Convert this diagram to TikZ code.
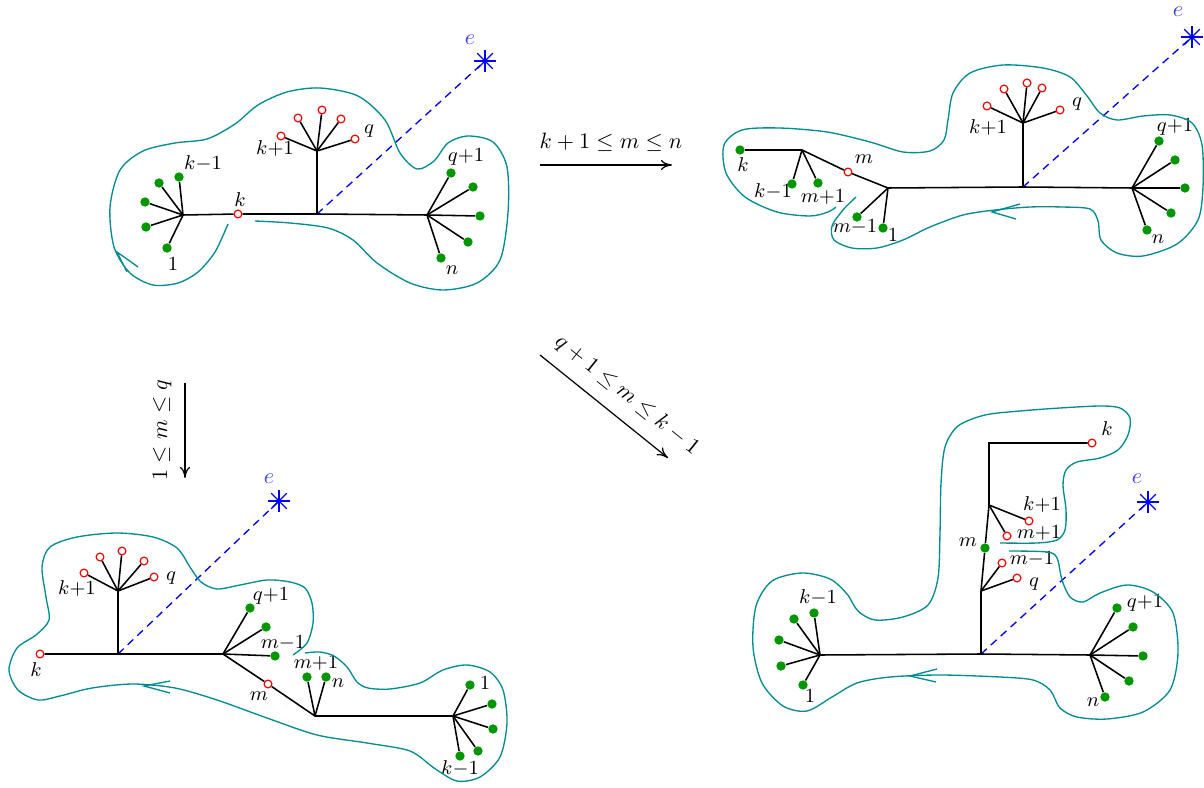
\documentclass[tikz,border=0pt]{standalone}
\usepackage{amssymb}
\usetikzlibrary{arrows.meta}
\definecolor{loopc}{RGB}{0,140,145}
\definecolor{dotg}{RGB}{0,150,0}
\begin{document}
\begin{tikzpicture}[x=0.45pt,y=-0.45pt,
  tree/.style={line width=0.7pt,black},
  gdot/.style={circle,fill=dotg,inner sep=0pt,minimum size=4.2pt},
  rdot/.style={circle,draw=red,fill=white,inner sep=0pt,minimum size=3.5pt,line width=0.55pt},
  lab/.style={font=\fontsize{8.6}{10}\selectfont,inner sep=0pt},
  elab/.style={text=blue!75,inner sep=0pt},
  loopline/.style={draw=loopc,line width=0.6pt},
  edash/.style={draw=blue,dash pattern=on 3.5pt off 2.5pt,line width=0.6pt},
  star/.style={draw=blue,line width=0.6pt},
  bigarrow/.style={line width=0.55pt,-{To[length=5pt,width=4.5pt]}}]
\useasboundingbox (0,0) rectangle (1204,788);

% ================= Panel 1 =================
\coordinate (aL) at (183,215);
\coordinate (aC) at (317,214);
\coordinate (aU) at (317,151);
\coordinate (aR) at (427,215);
\coordinate (ae) at (485,61);
\node[rdot] (ak) at (238,214) {};
\node[rdot] (au1) at (281,136) {};
\node[rdot] (au2) at (298,118) {};
\node[rdot] (au3) at (322,110) {};
\node[rdot] (au4) at (341,119) {};
\node[rdot] (au5) at (355,139) {};
\node[gdot] (al1) at (167,248) {};
\node[gdot] (al2) at (146,227) {};
\node[gdot] (al3) at (145,202) {};
\node[gdot] (al4) at (159,183) {};
\node[gdot] (al5) at (179,177) {};
\node[gdot] (ar1) at (451,173) {};
\node[gdot] (ar2) at (473,187) {};
\node[gdot] (ar3) at (480,216) {};
\node[gdot] (ar4) at (468,242) {};
\node[gdot] (ar5) at (441,258) {};
\draw[edash] (aC) -- (ae);
\draw[tree] (aL) -- (ak) -- (aC) -- (aR) -- (ar3);
\draw[tree] (aC) -- (aU);
\foreach \i in {1,...,5} {\draw[tree] (aU) -- (au\i); \draw[tree] (aL) -- (al\i);}
\foreach \i in {1,2,4,5} {\draw[tree] (aR) -- (ar\i);}
\foreach \a in {0,45,90,135} \draw[star] (ae) ++(\a:11) -- ++(\a+180:22);
\node[elab] (lae) at (470,40) {$e$};
\node[lab] (lak) at (240,200) {$k$};
\node[lab] (lak1) at (275,148) {$k{+}1$};
\node[lab] (laq) at (369,131) {$q$};
\node[lab] (lakm) at (203,163) {$k{-}1$};
\node[lab] (la1) at (173,264) {$1$};
\node[lab] (laq1) at (466,157) {$q{+}1$};
\node[lab] (lan) at (452,270) {$n$};
\draw[loopline] plot[smooth] coordinates {(228,224) (215,252) (198,272) (178,283) (153,285) (130,273) (114,247) (110,207) (120,170) (143,151) (175,143) (207,139) (235,124) (258,105) (287,92) (320,88) (358,96) (385,120) (400,153) (417,169) (434,161) (448,143) (468,136) (493,142) (507,167) (508,213) (500,260) (477,283) (443,290) (410,283) (377,263) (353,240) (328,228) (290,223) (255,221)};
\coordinate (atip) at (117,252);
\coordinate (aw1) at (138,267);
\coordinate (aw2) at (127,272);
\draw[loopline] (aw1) -- (atip) -- (aw2);

% ================= Panel 2 =================
\coordinate (bL) at (888,188);
\coordinate (bC) at (1023,187);
\coordinate (bU) at (1023,123);
\coordinate (bR) at (1132,188);
\coordinate (bK) at (802,150);
\coordinate (be) at (1192,37);
\node[rdot] (bm) at (848,172) {};
\node[gdot] (bk) at (740,150) {};
\node[gdot] (bl1) at (792,184) {};
\node[gdot] (bl2) at (818,183) {};
\node[gdot] (bh1) at (857,217) {};
\node[gdot] (bh2) at (883,228) {};
\node[rdot] (bu1) at (987,106) {};
\node[rdot] (bu2) at (1004,89) {};
\node[rdot] (bu3) at (1027,83) {};
\node[rdot] (bu4) at (1042,88) {};
\node[rdot] (bu5) at (1060,110) {};
\node[gdot] (br1) at (1159,141) {};
\node[gdot] (br2) at (1175,160) {};
\node[gdot] (br3) at (1185,188) {};
\node[gdot] (br4) at (1171,213) {};
\node[gdot] (br5) at (1147,230) {};
\draw[edash] (bC) -- (be);
\draw[tree] (bk) -- (bK) -- (bm) -- (bL) -- (bC) -- (bR) -- (br3);
\draw[tree] (bC) -- (bU);
\draw[tree] (bK) -- (bl1);
\draw[tree] (bK) -- (bl2);
\draw[tree] (bL) -- (bh1);
\draw[tree] (bL) -- (bh2);
\foreach \i in {1,...,5} {\draw[tree] (bU) -- (bu\i);}
\foreach \i in {1,2,4,5} {\draw[tree] (bR) -- (br\i);}
\foreach \a in {0,45,90,135} \draw[star] (be) ++(\a:11) -- ++(\a+180:22);
\node[elab] (lbe) at (1178,12) {$e$};
\node[lab] (lbk) at (743,165) {$k$};
\node[lab] (lbkm) at (773,191) {$k{-}1$};
\node[lab] (lbmp) at (823,197) {$m{+}1$};
\node[lab] (lbm) at (864,159) {$m$};
\node[lab] (lbmm) at (855,227) {$m{-}1$};
\node[lab] (lb1) at (893,235) {$1$};
\node[lab] (lbk1) at (988,127) {$k{+}1$};
\node[lab] (lbq) at (1077,104) {$q$};
\node[lab] (lbq1) at (1175,127) {$q{+}1$};
\node[lab] (lbn) at (1158,239) {$n$};
\draw[loopline] plot[smooth] coordinates {(856,197) (843,210) (832,226) (834,240) (852,248) (877,248) (903,240) (930,227) (963,215) (995,210) (1030,207) (1062,207) (1090,209) (1098,221) (1101,240) (1117,253) (1143,256) (1177,244) (1198,220) (1203,187) (1202,145) (1192,123) (1170,115) (1143,116) (1117,120) (1100,113) (1087,96) (1070,77) (1043,68) (1003,65) (970,73) (953,93) (948,120) (944,140) (930,151) (903,152) (870,142) (827,132) (779,128) (742,130) (724,145) (726,173) (745,197) (777,212) (810,216) (828,212) (836,207)};
\coordinate (btip) at (992,212);
\coordinate (bw1) at (1020,204);
\coordinate (bw2) at (1016,219);
\draw[loopline] (bw1) -- (btip) -- (bw2);

% ================= Panel 3 =================
\coordinate (cC) at (118,654);
\coordinate (cU) at (118,591);
\coordinate (cH) at (223,654);
\coordinate (cM) at (315,716);
\coordinate (cR) at (453,716);
\coordinate (ce) at (279,501);
\node[rdot] (ck) at (40,654) {};
\node[rdot] (cm) at (268,684) {};
\node[rdot] (cu1) at (84,573) {};
\node[rdot] (cu2) at (100,557) {};
\node[rdot] (cu3) at (122,551) {};
\node[rdot] (cu4) at (144,561) {};
\node[rdot] (cu5) at (154,577) {};
\node[gdot] (ch1) at (250,608) {};
\node[gdot] (ch2) at (266,627) {};
\node[gdot] (ch3) at (275,656) {};
\node[gdot] (cn1) at (307,677) {};
\node[gdot] (cn2) at (326,677) {};
\node[gdot] (cr1) at (470,685) {};
\node[gdot] (cr2) at (492,704) {};
\node[gdot] (cr3) at (493,729) {};
\node[gdot] (cr4) at (478,751) {};
\node[gdot] (cr5) at (460,756) {};
\draw[edash] (cC) -- (ce);
\draw[tree] (ck) -- (cC) -- (cH) -- (ch3);
\draw[tree] (cC) -- (cU);
\draw[tree] (cH) -- (cm) -- (cM) -- (cR);
\draw[tree] (cH) -- (ch1);
\draw[tree] (cH) -- (ch2);
\draw[tree] (cM) -- (cn1);
\draw[tree] (cM) -- (cn2);
\foreach \i in {1,...,5} {\draw[tree] (cU) -- (cu\i); \draw[tree] (cR) -- (cr\i);}
\foreach \a in {0,45,90,135} \draw[star] (ce) ++(\a:11) -- ++(\a+180:22);
\node[elab] (lce) at (269,479) {$e$};
\node[lab] (lck) at (36,670) {$k$};
\node[lab] (lck1) at (77,588) {$k{+}1$};
\node[lab] (lcq) at (171,578) {$q$};
\node[lab] (lcq1) at (271,596) {$q{+}1$};
\node[lab] (lcmm) at (283,643) {$m{-}1$};
\node[lab] (lcm) at (259,696) {$m$};
\node[lab] (lcmp) at (316,663) {$m{+}1$};
\node[lab] (lcn) at (338,683) {$n$};
\node[lab] (lc1) at (485,683) {$1$};
\node[lab] (lckm) at (460,768) {$k{-}1$};
\draw[loopline] plot[smooth] coordinates {(293,655) (307,643) (313,623) (312,603) (305,588) (290,582) (267,580) (240,585) (217,589) (201,582) (190,567) (177,548) (153,537) (117,533) (77,537) (50,547) (42,567) (46,597) (49,620) (36,635) (17,648) (9,670) (18,690) (38,700) (60,696) (92,688) (133,684) (175,688) (217,700) (267,718) (317,735) (367,743) (410,751) (434,768) (457,781) (480,777) (500,757) (507,723) (503,690) (490,672) (467,665) (443,670) (420,683) (390,689) (368,688) (357,682) (347,667) (334,656) (320,652) (305,653)};
\coordinate (ctip) at (144,686);
\coordinate (cw1) at (170,681);
\coordinate (cw2) at (170,693);
\draw[loopline] (cw1) -- (ctip) -- (cw2);

% ================= Panel 4 =================
\coordinate (dL) at (820,655);
\coordinate (dC) at (981,654);
\coordinate (dR) at (1090,655);
\coordinate (dQ) at (981,591);
\coordinate (dK) at (989,505);
\coordinate (dT) at (989,443);
\coordinate (de) at (1148,502);
\node[gdot] (dm) at (985,548) {};
\node[rdot] (dk) at (1092,443) {};
\node[rdot] (dq1) at (1002,563) {};
\node[rdot] (dq2) at (1017,578) {};
\node[rdot] (dk1) at (1029,521) {};
\node[rdot] (dk2) at (1007,536) {};
\node[gdot] (dl1) at (803,685) {};
\node[gdot] (dl2) at (781,666) {};
\node[gdot] (dl3) at (779,640) {};
\node[gdot] (dl4) at (794,619) {};
\node[gdot] (dl5) at (814,613) {};
\node[gdot] (dr1) at (1117,608) {};
\node[gdot] (dr2) at (1133,627) {};
\node[gdot] (dr3) at (1143,656) {};
\node[gdot] (dr4) at (1129,681) {};
\node[gdot] (dr5) at (1105,697) {};
\draw[edash] (dC) -- (de);
\draw[tree] (dL) -- (dC) -- (dR) -- (dr3);
\draw[tree] (dC) -- (dQ) -- (dm) -- (dK) -- (dT) -- (dk);
\draw[tree] (dQ) -- (dq1);
\draw[tree] (dQ) -- (dq2);
\draw[tree] (dK) -- (dk1);
\draw[tree] (dK) -- (dk2);
\foreach \i in {1,...,5} {\draw[tree] (dL) -- (dl\i);}
\foreach \i in {1,2,4,5} {\draw[tree] (dR) -- (dr\i);}
\foreach \a in {0,45,90,135} \draw[star] (de) ++(\a:11) -- ++(\a+180:22);
\node[elab] (lde) at (1137,479) {$e$};
\node[lab] (ldk) at (1107,429) {$k$};
\node[lab] (ldk1) at (1042,504) {$k{+}1$};
\node[lab] (ldmp) at (1039,533) {$m{+}1$};
\node[lab] (ldm) at (968,542) {$m$};
\node[lab] (ldmm) at (1032,559) {$m{-}1$};
\node[lab] (ldq) at (1034,584) {$q$};
\node[lab] (ldkm) at (818,597) {$k{-}1$};
\node[lab] (ld1) at (810,696) {$1$};
\node[lab] (ldq1) at (1145,603) {$q{+}1$};
\node[lab] (ldn) at (1093,702) {$n$};
\draw[loopline] plot[smooth] coordinates {(1000,543) (1037,543) (1057,540) (1065,530) (1066,510) (1063,485) (1066,470) (1077,462) (1100,458) (1118,450) (1128,435) (1130,418) (1120,408) (1100,406) (1060,408) (1020,411) (985,415) (958,426) (945,447) (941,483) (940,533) (938,578) (928,605) (903,617) (875,620) (858,611) (847,594) (830,579) (802,573) (772,581) (756,606) (753,647) (762,683) (783,706) (807,711) (832,697) (857,683) (890,677) (940,675) (1000,677) (1033,680) (1050,690) (1060,708) (1077,717) (1107,719) (1143,712) (1170,690) (1178,653) (1173,613) (1153,592) (1127,585) (1100,593) (1083,602) (1070,597) (1062,580) (1057,558) (1047,552) (1009,551)};
\coordinate (dtip) at (910,676);
\coordinate (dw1) at (937,669);
\coordinate (dw2) at (936,682);
\draw[loopline] (dw1) -- (dtip) -- (dw2);

% ================= Transition arrows =================
\coordinate (t1s) at (540,165);
\coordinate (t1e) at (672,165);
\draw[bigarrow] (t1s) -- (t1e);
\node (t1l) at (611,142) {$k+1\leq m\leq n$};
\coordinate (t2s) at (185,383);
\coordinate (t2e) at (185,478);
\draw[bigarrow] (t2s) -- (t2e);
\node[rotate=90] (t2l) at (162,430) {$1\leq m\leq q$};
\coordinate (t3s) at (540,355);
\coordinate (t3e) at (668,458);
\draw[bigarrow] (t3s) -- (t3e);
\node[rotate=-38.8] (t3l) at (627,395) {$q+1\leq m\leq k-1$};
\end{tikzpicture}
\end{document}
